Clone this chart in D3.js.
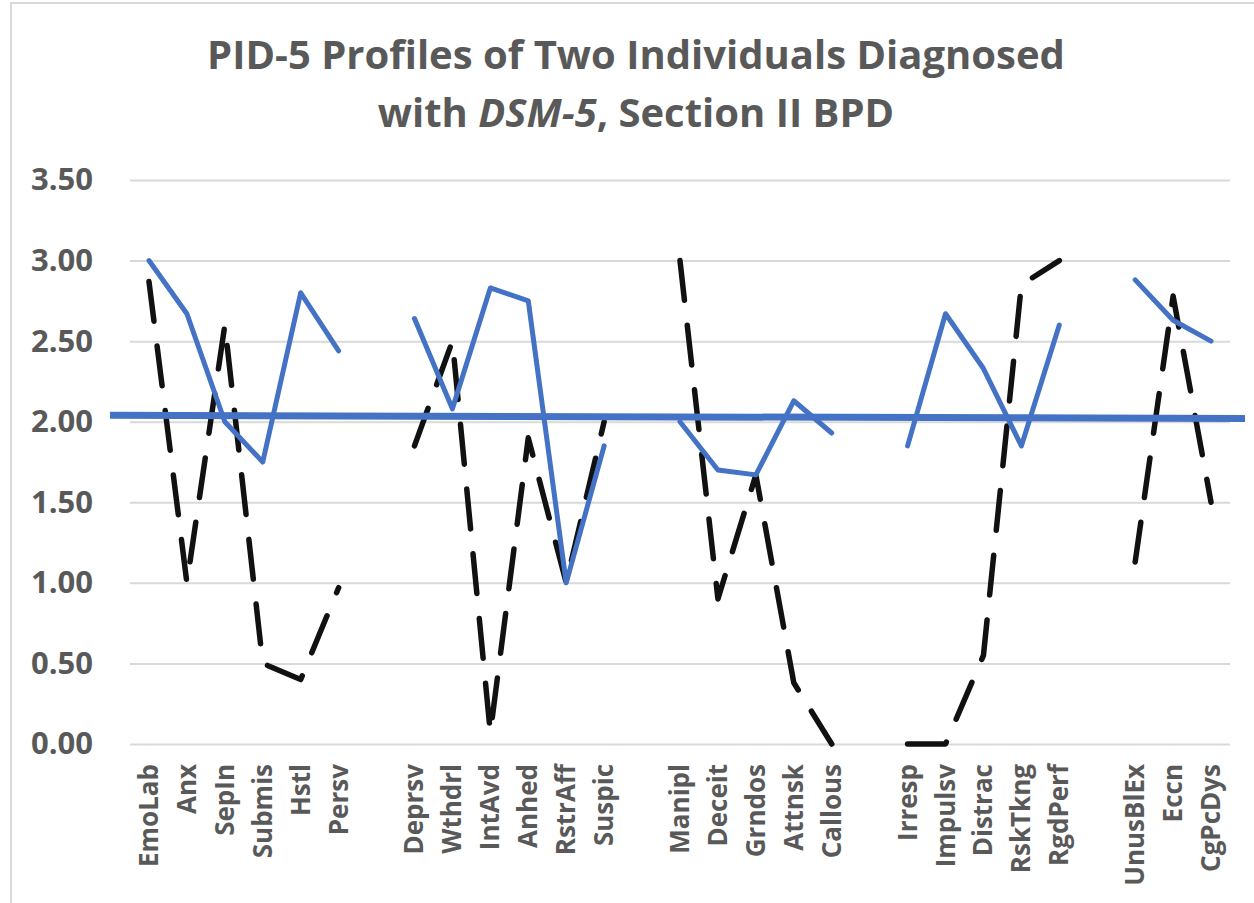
<!DOCTYPE html>
<html>
<head>
<meta charset="utf-8">
<script src="https://cdn.jsdelivr.net/npm/d3@7"></script>
<style>
  body { margin: 0; background: #fff; }
  text { font-family: "Open Sans", sans-serif; font-weight: bold; fill: #595959; }
</style>
</head>
<body>
<div class="chart-container"></div>
<script>
// empty slots (null) separate the five trait domains
const categories = ['EmoLab', 'Anx', 'SepIn', 'Submis', 'Hstl', 'Persv', null,
  'Deprsv', 'Wthdrl', 'IntAvd', 'Anhed', 'RstrAff', 'Suspic', null,
  'Manipl', 'Deceit', 'Grndos', 'Attnsk', 'Callous', null,
  'Irresp', 'Impulsv', 'Distrac', 'RskTkng', 'RgdPerf', null,
  'UnusBlEx', 'Eccn', 'CgPcDys'];

const person1 = [3.00, 2.67, 2.00, 1.75, 2.80, 2.44, null,
  2.64, 2.08, 2.83, 2.75, 1.00, 1.85, null,
  2.00, 1.70, 1.67, 2.13, 1.93, null,
  1.85, 2.67, 2.33, 1.85, 2.60, null,
  2.88, 2.63, 2.50];

const person2 = [2.87, 1.00, 2.60, 0.50, 0.40, 0.97, null,
  1.85, 2.50, 0.07, 1.90, 1.00, 2.00, null,
  3.00, 0.90, 1.67, 0.38, 0.00, null,
  0.00, 0.00, 0.55, 2.85, 3.00, null,
  1.13, 2.78, 1.50];

const cutoff = [2.04, 2.02];
const yTicks = [0, 0.5, 1, 1.5, 2, 2.5, 3, 3.5];

const width = 1254, height = 903;

const svg = d3.select('.chart-container').append('svg')
    .attr('width', width)
    .attr('height', height);

// outer chart border
svg.append('rect')
    .attr('x', 11).attr('y', 3)
    .attr('width', width).attr('height', height)
    .attr('fill', 'none')
    .attr('stroke', '#d9d9d9')
    .attr('stroke-width', 2);

const x = d3.scaleBand()
    .domain(d3.range(categories.length))
    .range([130, 1230]);

const y = d3.scaleLinear()
    .domain([0, 3.5])
    .range([744, 180]);

const cx = i => x(i) + x.bandwidth() / 2;

// title
const title = svg.append('text')
    .attr('text-anchor', 'middle')
    .style('font-size', '40px');
title.append('tspan').attr('x', 636).attr('y', 69)
    .text('PID-5 Profiles of Two Individuals Diagnosed');
const t2 = title.append('tspan').attr('x', 636).attr('y', 127);
t2.append('tspan').text('with ');
t2.append('tspan').style('font-style', 'italic').text('DSM-5');
t2.append('tspan').text(', Section II BPD');

// grid
svg.append('g')
    .attr('class', 'grid')
    .attr('transform', 'translate(130,0)')
    .call(d3.axisRight(y).tickValues(yTicks).tickSize(1100).tickFormat(''))
    .call(g => g.select('.domain').remove())
    .call(g => g.selectAll('line').attr('stroke', '#d9d9d9').attr('stroke-width', 2));

// y labels
svg.append('g')
    .attr('transform', 'translate(130,0)')
    .call(d3.axisLeft(y).tickValues(yTicks).tickSize(0).tickPadding(37).tickFormat(d3.format('.2f')))
    .call(g => g.select('.domain').remove())
    .call(g => g.selectAll('text')
        .style('font-size', '31px')
        .style('font-family', '"Open Sans", sans-serif')
        .attr('fill', '#595959'));

// x labels
svg.append('g')
    .selectAll('text')
    .data(categories.map((c, i) => ({c, i})).filter(d => d.c))
    .enter()
    .append('text')
        .attr('transform', d => 'translate(' + (cx(d.i) + 9) + ',764) rotate(-90)')
        .attr('text-anchor', 'end')
        .style('font-size', '26px')
        .text(d => d.c);

const line = d3.line()
    .defined(d => d != null)
    .x((d, i) => cx(i))
    .y(d => y(d));

svg.append('path')
    .datum(person2)
    .attr('d', line)
    .attr('fill', 'none')
    .attr('stroke', '#111')
    .attr('stroke-width', 5.5)
    .attr('stroke-linecap', 'round')
    .attr('stroke-linejoin', 'round')
    .attr('stroke-dasharray', '40 25');

svg.append('path')
    .datum(person1)
    .attr('d', line)
    .attr('fill', 'none')
    .attr('stroke', '#4472c4')
    .attr('stroke-width', 5)
    .attr('stroke-linecap', 'round')
    .attr('stroke-linejoin', 'round');

// cut-off line drawn across the plot
svg.append('line')
    .attr('x1', x.range()[0] - 20)
    .attr('x2', x.range()[1] + 15)
    .attr('y1', y(cutoff[0]))
    .attr('y2', y(cutoff[1]))
    .attr('stroke', '#4472c4')
    .attr('stroke-width', 7);
</script>
</body>
</html>
